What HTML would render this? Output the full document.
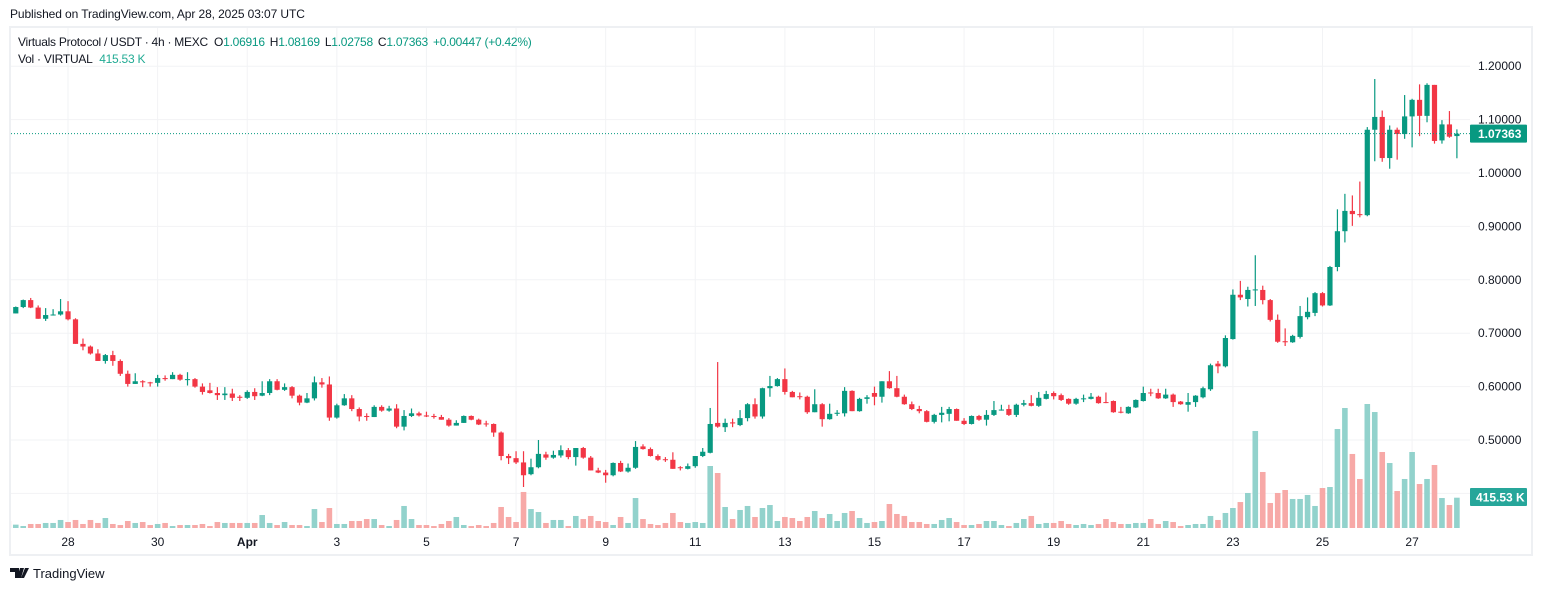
<!DOCTYPE html>
<html><head><meta charset="utf-8"><style>
html,body{margin:0;padding:0;background:#fff;width:1542px;height:591px;overflow:hidden;font-family:"Liberation Sans",sans-serif;}
svg{position:absolute;left:0;top:0}
</style></head><body>
<svg id="chart" width="1542" height="591" xmlns="http://www.w3.org/2000/svg"></svg>
<script>
const opens=[.757,.737,.749,.762,.748,.727,.734,.735,.741,.726,.680,.675,.662,.648,.659,.648,.624,.605,.610,.608,.607,.616,.614,.622,.613,.614,.600,.593,.588,.584,.587,.581,.579,.590,.583,.588,.610,.594,.599,.583,.570,.578,.608,.604,.542,.565,.578,.558,.545,.543,.562,.555,.559,.525,.545,.550,.546,.545,.543,.538,.527,.532,.545,.538,.531,.530,.514,.470,.466,.458,.436,.449,.473,.467,.471,.481,.468,.485,.467,.443,.439,.434,.457,.441,.448,.488,.483,.470,.464,.463,.449,.446,.451,.470,.476,.532,.524,.533,.528,.541,.567,.544,.597,.601,.614,.590,.582,.581,.552,.567,.539,.549,.550,.592,.554,.577,.588,.581,.610,.597,.581,.567,.558,.554,.534,.547,.549,.558,.536,.530,.545,.538,.547,.556,.558,.547,.566,.569,.564,.577,.588,.584,.577,.568,.577,.577,.581,.571,.573,.553,.550,.561,.573,.589,.588,.578,.585,.572,.566,.571,.580,.595,.643,.638,.689,.772,.764,.781,.781,.762,.725,.685,.683,.693,.730,.738,.775,.752,.824,.891,.929,.923,.921,1.081,1.105,1.028,1.081,1.073,1.106,1.137,1.107,1.165,1.061,1.091,1.06916];
const highs=[.760,.750,.763,.766,.752,.747,.745,.764,.760,.728,.690,.677,.670,.661,.667,.651,.630,.625,.612,.609,.622,.621,.627,.624,.627,.616,.606,.607,.599,.599,.596,.584,.593,.597,.610,.614,.614,.606,.601,.585,.588,.619,.616,.619,.568,.586,.584,.561,.550,.565,.565,.564,.567,.556,.559,.553,.553,.549,.547,.541,.537,.546,.546,.540,.536,.531,.516,.474,.479,.479,.465,.500,.478,.480,.490,.485,.485,.487,.470,.448,.444,.458,.461,.456,.498,.492,.486,.473,.468,.477,.451,.456,.470,.485,.560,.646,.540,.540,.556,.569,.578,.598,.620,.616,.634,.592,.589,.583,.595,.569,.568,.556,.599,.593,.579,.584,.600,.610,.629,.620,.585,.572,.564,.556,.549,.562,.562,.559,.541,.546,.547,.556,.573,.566,.566,.568,.575,.584,.590,.592,.591,.587,.578,.579,.585,.588,.583,.589,.574,.562,.563,.576,.600,.596,.596,.596,.587,.573,.588,.584,.600,.643,.648,.696,.782,.798,.787,.846,.789,.764,.735,.709,.697,.751,.767,.777,.777,.826,.932,.961,.958,.984,1.086,1.176,1.117,1.089,1.085,1.146,1.139,1.166,1.168,1.165,1.099,1.116,1.08169];
const lows=[.740,.737,.747,.747,.727,.723,.733,.733,.724,.680,.668,.660,.648,.643,.639,.620,.600,.605,.599,.600,.600,.611,.614,.611,.602,.598,.585,.587,.575,.575,.573,.573,.577,.575,.582,.584,.593,.592,.578,.565,.569,.574,.598,.536,.540,.564,.554,.535,.536,.543,.553,.553,.522,.518,.543,.544,.543,.540,.538,.525,.527,.532,.537,.528,.525,.506,.462,.455,.455,.412,.434,.447,.463,.465,.467,.464,.452,.465,.443,.438,.420,.432,.440,.439,.446,.482,.469,.461,.459,.446,.443,.445,.448,.468,.475,.523,.515,.524,.526,.535,.540,.540,.581,.600,.585,.580,.576,.549,.552,.525,.538,.545,.544,.554,.553,.568,.565,.570,.596,.580,.566,.556,.550,.533,.531,.533,.535,.536,.528,.529,.536,.527,.545,.555,.545,.543,.563,.563,.562,.576,.576,.573,.566,.566,.571,.576,.568,.569,.551,.550,.549,.560,.572,.582,.577,.577,.562,.566,.553,.562,.578,.592,.625,.636,.688,.762,.750,.751,.754,.722,.682,.676,.682,.690,.726,.732,.750,.751,.816,.870,.901,.917,.919,1.022,1.021,1.008,1.025,1.064,1.048,1.069,1.095,1.055,1.055,1.066,1.02758];
const closes=[.745,.749,.762,.748,.727,.734,.735,.741,.726,.680,.675,.662,.648,.659,.648,.624,.605,.610,.608,.607,.616,.614,.622,.613,.614,.600,.590,.588,.584,.587,.579,.579,.590,.582,.588,.610,.594,.599,.583,.570,.578,.608,.604,.542,.565,.578,.558,.544,.543,.562,.555,.559,.525,.545,.550,.546,.544,.543,.538,.527,.532,.545,.538,.529,.530,.514,.470,.466,.458,.434,.449,.474,.467,.472,.481,.468,.485,.467,.443,.439,.434,.457,.441,.448,.487,.483,.470,.463,.463,.446,.448,.451,.470,.478,.530,.525,.532,.531,.541,.567,.544,.597,.601,.614,.590,.580,.581,.552,.567,.539,.549,.551,.592,.554,.577,.580,.581,.610,.597,.581,.567,.558,.554,.534,.547,.551,.558,.536,.530,.545,.538,.547,.556,.557,.547,.566,.569,.564,.579,.586,.582,.575,.568,.577,.578,.581,.569,.570,.552,.552,.562,.575,.588,.588,.578,.585,.571,.567,.571,.583,.597,.640,.638,.691,.772,.767,.781,.782,.762,.725,.684,.683,.695,.732,.740,.775,.752,.824,.891,.929,.923,.921,1.081,1.105,1.028,1.081,1.073,1.106,1.137,1.107,1.165,1.060,1.091,1.068,1.07363];
const volumes=[96,46,27,55,55,69,69,110,82,110,55,110,69,137,55,41,96,69,82,41,55,69,27,41,41,41,55,27,82,69,69,69,69,69,178,69,41,82,41,41,27,260,82,274,55,55,96,96,123,123,41,27,110,302,123,41,41,27,55,96,151,41,27,41,27,69,288,151,82,494,260,219,69,110,110,27,165,123,165,96,82,41,151,69,411,123,55,41,69,206,82,69,82,69,850,754,288,123,247,302,151,274,315,96,151,137,96,151,233,137,192,96,206,233,137,69,82,96,329,192,165,82,82,55,55,110,137,82,41,41,55,96,96,41,27,69,123,165,55,69,69,96,55,41,55,41,55,123,82,55,55,69,69,123,55,96,82,27,41,55,55,165,110,206,274,356,480,1330,768,343,480,521,398,398,453,302,548,562,1357,1645,1015,672,1700,1590,1042,891,507,672,1042,603,672,864,411,315,415.53];
const priceTicks=[1.2,1.1,1.0,0.9,0.8,0.7,0.6,0.5,0.4];
const priceTickLabels=["1.20000","1.10000","1.00000","0.90000","0.80000","0.70000","0.60000","0.50000","0.40000"];
const timeTickIdx=[8,20,32,44,56,68,80,92,104,116,128,140,152,164,176,188];
const timeTickLabels=["28","30","Apr","3","5","7","9","11","13","15","17","19","21","23","25","27"];
const lastPrice=1.07363, lastVolLabel="415.53 K";

const NS="http://www.w3.org/2000/svg";
const svg=document.getElementById('chart');
const X=i=>8.3+7.467*i;
const Y=p=>440-(p-0.5)*534;
const VY=v=>528-v/13.71;
const G='#089981',R='#F23645',GV='#92d2cc',RV='#f7a9a7';
function el(tag,attrs,parent){const e=document.createElementNS(NS,tag);for(const k in attrs)e.setAttribute(k,attrs[k]);(parent||svg).appendChild(e);return e;}
function txt(s,x,y,attrs,parent){const t=el('text',Object.assign({x:x,y:y},attrs),parent);t.textContent=s;return t;}

let h=txt("Published on TradingView.com, Apr 28, 2025 03:07 UTC",10,18,{'font-size':12,fill:'#131722','letter-spacing':'-0.1'});


let fr=el('rect',{x:10,y:27,width:1522,height:528,fill:'none',stroke:'#eef0f3','stroke-width':2});


const grid=el('g',{});


priceTicks.forEach((p,k)=>{
  const l=el('line',{x1:11,x2:1470,y1:Y(p),y2:Y(p),stroke:'#f2f3f5','stroke-width':1},grid);
  
  
});
timeTickIdx.forEach(i=>{
  const l=el('line',{x1:X(i),x2:X(i),y1:28,y2:528,stroke:'#f2f3f5','stroke-width':1},grid);
  
  
});
const pAxis=el('g',{'font-size':12,fill:'#131722'});


priceTicks.forEach((p,k)=>{
  const t=txt(priceTickLabels[k],1478,Y(p)+4,{},pAxis);
  
  
});
const tAxis=el('g',{'font-size':12,fill:'#131722','text-anchor':'middle'});


timeTickIdx.forEach((i,k)=>{
  const t=txt(timeTickLabels[k],X(i),546,{'font-weight':timeTickLabels[k]==='Apr'?'bold':'normal'},tAxis);
  
  
});
const defs=el('defs',{});
const cp=el('clipPath',{id:'plot'},defs);
el('rect',{x:11,y:28,width:1459,height:500},cp);
const vg=el('g',{'clip-path':'url(#plot)'});


volumes.forEach((v,i)=>{
  const up=closes[i]>=opens[i];
  const b=el('rect',{x:X(i)-2.8,y:VY(v),width:5.6,height:528-VY(v),fill:up?GV:RV},vg);
  
  
});
const cg=el('g',{'clip-path':'url(#plot)'});


opens.forEach((o,i)=>{
  const c=closes[i],up=c>=o,col=up?G:R,x=X(i);
  const g=el('g',{},cg);
  
  
  el('line',{x1:x,x2:x,y1:Y(highs[i]),y2:Y(lows[i]),stroke:col,'stroke-width':1.2},g);
  const top=Y(Math.max(o,c)),bot=Y(Math.min(o,c));
  el('rect',{x:x-2.6,y:top,width:5.2,height:Math.max(1,bot-top),fill:col},g);
});
const lp=el('line',{x1:11,x2:1470,y1:Y(lastPrice),y2:Y(lastPrice),stroke:G,'stroke-width':1,'stroke-dasharray':'1,2'});


const lb=el('g',{});


el('rect',{x:1470,y:Y(lastPrice)-9,width:57,height:18,fill:G,rx:1},lb);
txt(lastPrice.toFixed(5),1478,Y(lastPrice)+4.5,{'font-size':12,fill:'#fff','font-weight':'bold'},lb);
const vb=el('g',{});


el('rect',{x:1470,y:488,width:57,height:18,fill:'#26a69a',rx:1},vb);
txt(lastVolLabel,1476,501.5,{'font-size':12,fill:'#fff','font-weight':'bold'},vb);
const lg=el('text',{x:18,y:46,'font-size':12,fill:'#131722','letter-spacing':'-0.25'});


lg.innerHTML='Virtuals Protocol / USDT · 4h · MEXC  <tspan dx="3">O</tspan><tspan fill="#089981">1.06916</tspan><tspan dx="5">H</tspan><tspan fill="#089981">1.08169</tspan><tspan dx="5">L</tspan><tspan fill="#089981">1.02758</tspan><tspan dx="5">C</tspan><tspan fill="#089981">1.07363</tspan><tspan dx="5" fill="#089981">+0.00447 (+0.42%)</tspan>';
const vl=el('text',{x:18,y:63,'font-size':12,fill:'#131722','letter-spacing':'-0.25'});


vl.innerHTML='Vol · VIRTUAL <tspan dx="4" fill="#22ab94">415.53 K</tspan>';
const ft=el('g',{});


el('path',{d:'M10 568h9v10h-4v-6h-5z M20 568h4l-3 10h-4z M25 568h4l-5 10h-3z',fill:'#131722'},ft);
txt('TradingView',33,578,{'font-size':13,fill:'#131722'},ft);
</script>
</body></html>
